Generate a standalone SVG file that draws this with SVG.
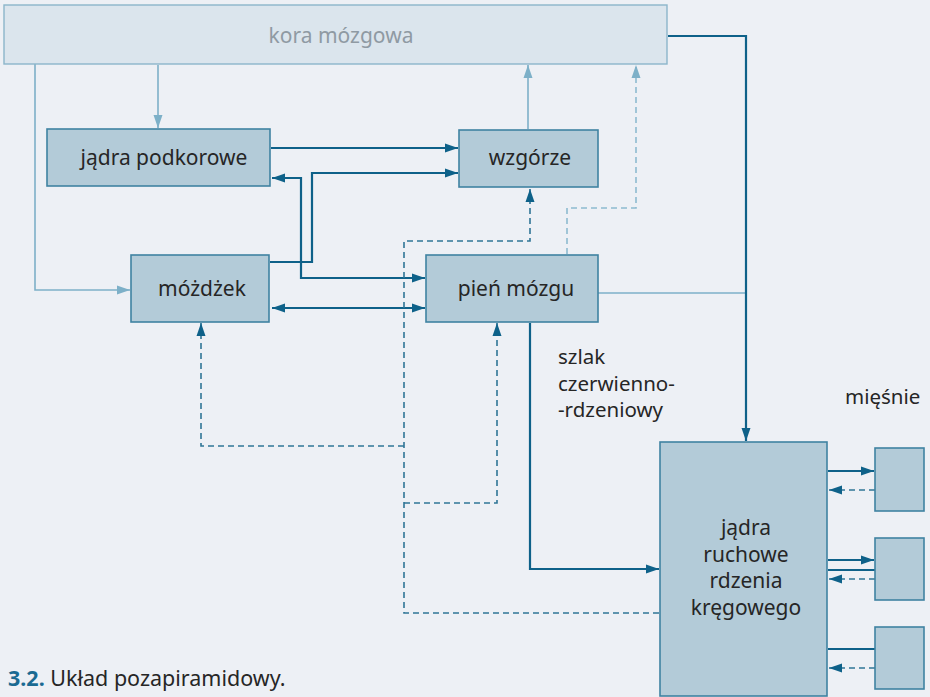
<svg xmlns="http://www.w3.org/2000/svg" width="930" height="697" viewBox="0 0 930 697">
<style>
.bg{fill:#edf0f5}
.box{fill:#b3cbd8;stroke:#3f83a2;stroke-width:1.6}
.kora{fill:#dbe5ed;stroke:#8cb6ca;stroke-width:1.4}
.t{font-family:"Noto Sans","Open Sans","Liberation Sans",sans-serif;font-size:21px;fill:#262626}
.tc{text-anchor:middle}
.dk{fill:none;stroke:#0e6189;stroke-width:2.2}
.lt{fill:none;stroke:#7db0c8;stroke-width:1.6}
.dd{fill:none;stroke:#2f7596;stroke-width:1.6;stroke-dasharray:6 4}
.ld{fill:none;stroke:#8dbbd0;stroke-width:1.6;stroke-dasharray:6 4}
.ad{marker-end:url(#md)}
.al{marker-end:url(#ml)}
.both{marker-start:url(#md);marker-end:url(#md)}
</style>
<defs>
<marker id="md" markerUnits="userSpaceOnUse" markerWidth="13" markerHeight="10" refX="13" refY="5" orient="auto-start-reverse"><path d="M0,0.5 L13,5 L0,9.5 z" fill="#0e6189"/></marker>
<marker id="ml" markerUnits="userSpaceOnUse" markerWidth="13" markerHeight="10" refX="13" refY="5" orient="auto-start-reverse"><path d="M0,0.5 L13,5 L0,9.5 z" fill="#7db0c8"/></marker>
</defs>
<rect class="bg" x="0" y="0" width="930" height="697"/>
<g id="connectors">
<path class="lt al" d="M35,62 V290 H130"/>
<path class="lt al" d="M158,65 V128"/>
<path class="lt al" d="M528,129 V65"/>
<path class="ld al" d="M567,254 V208 H636 V65"/>
<path class="lt" d="M598,293 H746"/>
<path class="dk ad" d="M668,36 H746 V441"/>
<path class="dk ad" d="M271,148 H458"/>
<path class="dk ad" d="M270,262 H312 V173 H458"/>
<path class="dk both" d="M272,178 H301 V278 H425"/>
<path class="dk both" d="M272,308 H425"/>
<path class="dk ad" d="M530,323 V569 H659"/>
<path class="dd ad" d="M659,613 H404 V241 H530 V189"/>
<path class="dd ad" d="M404,446 H201 V323"/>
<path class="dd ad" d="M404,503 H497 V323"/>
<path class="dk ad" d="M828,471 H874"/>
<path class="dd ad" d="M875,490 H829"/>
<path class="dk ad" d="M828,560 H874"/>
<path class="dk" d="M828,570 H875"/>
<path class="dd ad" d="M875,579 H829"/>
<path class="dk" d="M828,649 H875"/>
<path class="dd ad" d="M875,668 H829"/>
</g>
<g id="kora-mozgowa">
<rect class="kora" x="4" y="5" width="663" height="59"/>
<text class="t tc" x="341" y="43" style="fill:#8f9aa3">kora mózgowa</text>
</g>
<g id="jadra-podkorowe">
<rect class="box" x="47" y="129" width="223" height="57"/>
<text class="t tc" x="164" y="165">jądra podkorowe</text>
</g>
<g id="wzgorze">
<rect class="box" x="459" y="130" width="139" height="57"/>
<text class="t tc" x="530" y="165">wzgórze</text>
</g>
<g id="mozdzek">
<rect class="box" x="131" y="255" width="138" height="67"/>
<text class="t tc" x="202" y="296">móżdżek</text>
</g>
<g id="pien-mozgu">
<rect class="box" x="426" y="255" width="172" height="67"/>
<text class="t tc" x="516" y="296">pień mózgu</text>
</g>
<g id="jadra-ruchowe">
<rect class="box" x="660" y="442" width="167" height="254"/>
<text class="t tc" x="746" y="535">jądra</text>
<text class="t tc" x="746" y="562">ruchowe</text>
<text class="t tc" x="746" y="588">rdzenia</text>
<text class="t tc" x="746" y="615">kręgowego</text>
</g>
<g id="miesnie-1"><rect class="box" x="875" y="448" width="49" height="63"/></g>
<g id="miesnie-2"><rect class="box" x="875" y="538" width="49" height="62"/></g>
<g id="miesnie-3"><rect class="box" x="875" y="627" width="49" height="62"/></g>
<g id="labels">
<text class="t" x="558" y="364" style="font-size:20.5px">szlak</text>
<text class="t" x="558" y="391" style="font-size:20.5px">czerwienno-</text>
<text class="t" x="558" y="417" style="font-size:20.5px">-rdzeniowy</text>
<text class="t" x="845" y="404" style="font-size:20.5px">mięśnie</text>
<text class="t" x="8" y="686" style="font-size:21.5px"><tspan style="fill:#1a6a92;font-weight:bold">3.2.</tspan> Układ pozapiramidowy.</text>
</g>
</svg>
